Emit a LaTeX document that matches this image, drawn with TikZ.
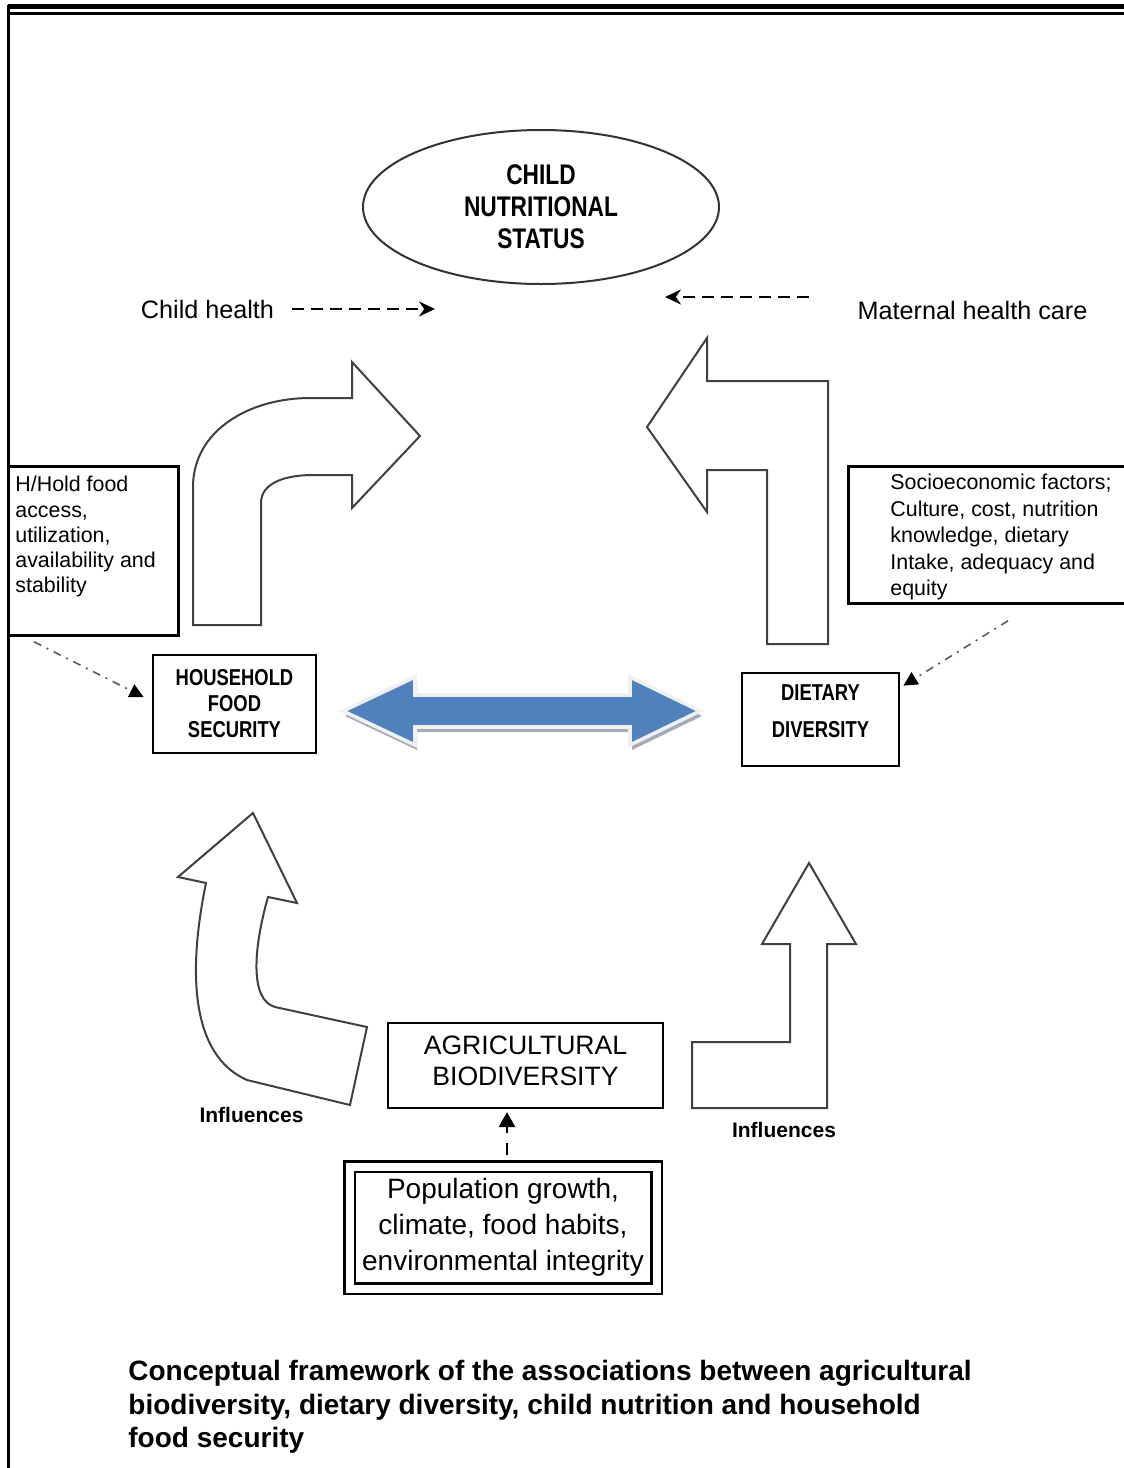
\documentclass[tikz,border=0pt]{standalone}
\usepackage{fontspec}
\setmainfont{Liberation Sans}
\newfontfamily\narrowfont[FakeStretch=0.8]{Liberation Sans}
\usetikzlibrary{shapes.geometric, arrows.meta, calc}
\definecolor{linkblue}{RGB}{79, 129, 189}
\definecolor{linkshadow}{RGB}{165, 172, 184}

\begin{document}
\begin{tikzpicture}[
    x=0.5pt, y=-0.5pt,
    % Node Styles
    box/.style={draw=black, line width=1.4pt, inner sep=0pt, align=center},
    capsfont/.style={font=\narrowfont\bfseries\fontsize{11.5}{13}\selectfont},
    notefont/.style={font=\fontsize{10.7}{12.6}\selectfont},
    % Edge Styles
    bentarrow/.style={draw=black!75, line width=1pt, fill=white, line join=miter},
    dasharrow/.style={-{Stealth[length=8pt, width=7.5pt]}, line width=1.2pt, dash pattern=on 6pt off 3.5pt},
    dotarrow/.style={-{Triangle[length=7pt, width=7pt, color=black]}, line width=0.8pt, color=black!65, dash pattern=on 4pt off 3pt on 1pt off 3pt}
]
\useasboundingbox (0,0) rectangle (1124,1468);
\clip (0,0) rectangle (1124,1468);

% Frame
\draw[line width=2.5pt] (8,6.5) -- (1130,6.5);
\draw[line width=1.5pt] (8,13.5) -- (1130,13.5);
\draw[line width=1.3pt] (8.5,5) -- (8.5,1475);

% Main nodes
\node[ellipse, draw=black!80, line width=1pt, minimum width=178pt, minimum height=77pt, inner sep=0pt,
      align=center, font=\narrowfont\bfseries\fontsize{14.2}{16}\selectfont] (status) at (541,207) {CHILD\\NUTRITIONAL\\STATUS};
\node[box, capsfont, minimum width=81.5pt, minimum height=49pt] (food) at (234.5,704) {HOUSEHOLD\\FOOD\\SECURITY};
\node[box, font=\narrowfont\bfseries\fontsize{11.5}{18.5}\selectfont, minimum width=78.5pt, minimum height=46.5pt] (diet) at (820.5,719.5)
    {DIETARY\\DIVERSITY\\[-10pt]\mbox{}};
\node[box, font=\fontsize{13.3}{15.5}\selectfont, minimum width=137.5pt, minimum height=42.5pt] (agri) at (525.5,1065.5)
    {AGRICULTURAL\\BIODIVERSITY\\[-10.5pt]\mbox{}};
\node[draw=black, line width=1.25pt, double=white, double distance=4pt, minimum width=153.5pt, minimum height=61pt,
      inner sep=0pt, align=center, font=\fontsize{14}{18}\selectfont] (pop) at (503,1227.5) {Population growth,\\climate, food habits,\\environmental integrity};

% Side notes
\node[box, notefont, anchor=north west, inner xsep=3.5pt, inner ysep=5pt] (hold) at (7,465)
    {\parbox[c][74.5pt][t]{78pt}{H/Hold food\\access,\\utilization,\\availability and\\stability}};
\node[box, font=\fontsize{10.7}{13.2}\selectfont, anchor=north west, inner xsep=21pt, inner ysep=4pt] (socio) at (847,465)
    {\parbox[c][60.5pt][t]{120pt}{Socioeconomic factors;\\Culture, cost, nutrition\\knowledge, dietary\\Intake, adequacy and\\equity}};
\node[font=\fontsize{12.6}{15}\selectfont, inner sep=0pt] (childh) at (207.5,309) {Child health};
\node[font=\fontsize{12.6}{15}\selectfont, inner sep=0pt] (maternal) at (972.5,310) {Maternal health care};
\node[font=\bfseries\fontsize{10.5}{12}\selectfont, inner sep=0pt] (infl) at (251.5,1115) {Influences};
\node[font=\bfseries\fontsize{10.5}{12}\selectfont, inner sep=0pt] (infr) at (784,1130) {Influences};

% Block arrows
\draw[bentarrow] (193,625) -- (193,487) .. controls (193,430) and (250,398) .. (310,398) -- (352,398) -- (352,362)
    -- (420,436) -- (352,508) -- (352,475) -- (313,475) .. controls (285,475) and (261,483) .. (261,503) -- (261,625) -- cycle;
\draw[bentarrow] (647,427) -- (707,338) -- (707,381) -- (828,381) -- (828,644) -- (767,644) -- (767,470)
    -- (707,470) -- (707,512) -- cycle;
\draw[bentarrow] (253,813) -- (297,903) -- (268,897) .. controls (253,950) and (250,1000) .. (275,1007) -- (367,1027)
    -- (350,1105) -- (247,1080) .. controls (190,1055) and (188,970) .. (206,883) -- (178,877) -- cycle;
\draw[bentarrow] (809,863) -- (856,944) -- (827,944) -- (827,1108) -- (692,1108) -- (692,1042) -- (790,1042)
    -- (790,944) -- (762,944) -- cycle;

% Two-way link between food security and dietary diversity
\fill[linkshadow, shift={(2,5)}] (343,711) -- (415,677) -- (415,695) -- (630,695) -- (630,677) -- (700,711)
    -- (630,745) -- (630,727) -- (415,727) -- (415,745) -- cycle;
\draw[white!94!black, line width=1.8pt, fill=linkblue] (343,711) -- (415,677) -- (415,695) -- (630,695) -- (630,677)
    -- (700,711) -- (630,745) -- (630,727) -- (415,727) -- (415,745) -- cycle;

% Connectors
\coordinate (chhead) at (435,309);
\coordinate (mhhead) at (665,297);
\draw[dasharrow, shorten <=9pt] (childh.east) -- (chhead);
\draw[dasharrow] ($(maternal.west)+(-48,-13)$) -- (mhhead);
\draw[dotarrow] ($(hold.south west)+(27,5)$) -- ($(food.west)+(-8,-7)$);
\draw[dotarrow] ($(socio.south west)+(161,16)$) -- ($(diet.north east)+(3,14)$);
\coordinate (popup) at ($(pop.north)+(4,0)$);
\draw[-{Triangle[length=7.5pt, width=8pt]}, line width=1.2pt, dash pattern=on 6pt off 5pt, dash phase=6pt,
      shorten >=1.3pt] (popup) -- (popup |- agri.south);

% Caption
\node[anchor=west, align=left, inner sep=0pt, font=\bfseries\fontsize{14}{16.75}\selectfont] (caption) at (128,1407)
    {Conceptual framework of the associations between agricultural\\biodiversity, dietary diversity, child nutrition and household\\food security};

\end{tikzpicture}
\end{document}
